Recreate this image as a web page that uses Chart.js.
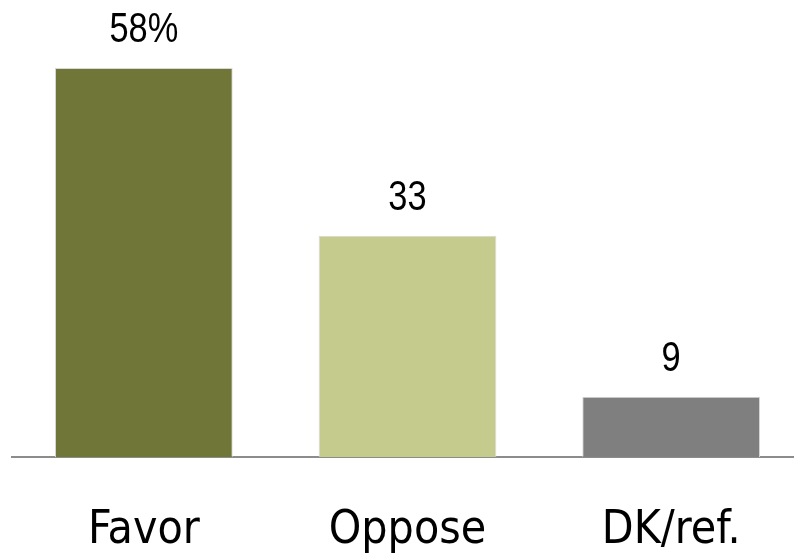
<!DOCTYPE html>
<html><head><meta charset="utf-8">
<script src="https://cdn.jsdelivr.net/npm/chart.js@4/dist/chart.umd.min.js"></script>
<style>html,body{margin:0;padding:0;overflow:hidden;background:#fff}#wrap{width:803px;height:556px;position:relative}</style>
</head><body><div id="wrap"><canvas id="c"></canvas></div>
<script>
const categories = ["Favor", "Oppose", "DK/ref."];
const values = [58, 33, 9];
const valueLabels = ["58%", "33", "9"];
const colors = ["#707538", "#c5cb8d", "#7f7f7f"];

const TICK_FONT = "'Liberation Sans Narrow', 'DejaVu Sans Condensed', 'Liberation Sans', sans-serif";

const valueLabelPlugin = {
  id: 'valueLabels',
  afterDatasetsDraw(chart) {
    const ctx = chart.ctx;
    const meta = chart.getDatasetMeta(0);
    meta.data.forEach((bar, i) => {
      ctx.save();
      ctx.fillStyle = '#000';
      ctx.font = "43px 'Liberation Sans', Arial, sans-serif";
      ctx.textAlign = 'center';
      ctx.textBaseline = 'alphabetic';
      ctx.translate(bar.x, bar.y - 26);
      ctx.scale(0.8, 1);
      ctx.fillText(valueLabels[i], 0, 0);
      ctx.restore();
    });
  }
};

new Chart(document.getElementById('c'), {
  type: 'bar',
  data: {
    labels: categories,
    datasets: [{
      data: values,
      backgroundColor: colors,
      borderColor: '#d8d8d8',
      borderWidth: 1,
      barPercentage: 0.674,
      categoryPercentage: 1
    }]
  },
  options: {
    responsive: true,
    maintainAspectRatio: false,
    animation: false,
    layout: { padding: { top: 1, left: 12, right: 0, bottom: 0 } },
    plugins: { legend: { display: false }, tooltip: { enabled: false } },
    scales: {
      x: {
        grid: { display: false, drawTicks: false },
        border: { display: true, color: '#8c8c8c', width: 2 },
        ticks: { color: '#000', font: { size: 46, family: TICK_FONT }, padding: 46 },
        afterFit(scale) { scale.height = 99; }
      },
      y: {
        display: false,
        min: 0, max: 68
      }
    }
  },
  plugins: [valueLabelPlugin]
});
</script></body></html>
